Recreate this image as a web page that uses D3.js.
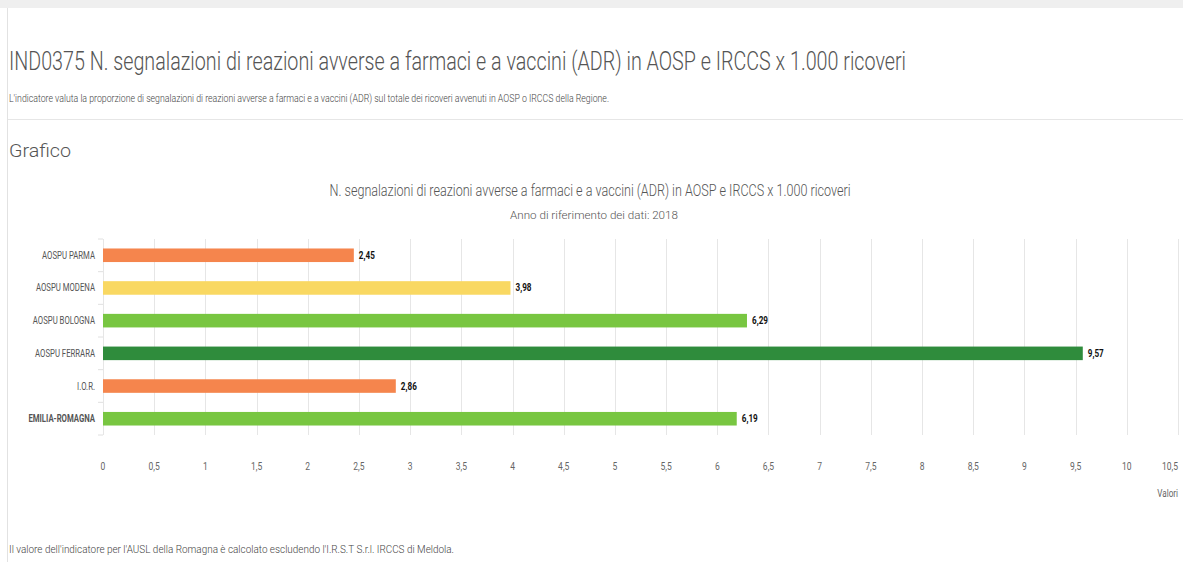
<!DOCTYPE html>
<html>
<head>
<meta charset="utf-8">
<script src="https://cdn.jsdelivr.net/npm/d3@7"></script>
<style>
    body { margin: 0; background: #fff; }
    svg { display: block; }
    .narrow { font-family: "Roboto", "Liberation Sans", sans-serif; }
    .light { font-family: "Roboto", "Liberation Sans", sans-serif; font-weight: 300; }
</style>
</head>
<body>
<svg id="page" width="1183" height="562"></svg>
<script>
const categories = ["AOSPU PARMA", "AOSPU MODENA", "AOSPU BOLOGNA", "AOSPU FERRARA", "I.O.R.", "EMILIA-ROMAGNA"];
const values = [2.45, 3.98, 6.29, 9.57, 2.86, 6.19];
const levels = ["basso", "medio", "buono", "ottimo", "basso", "buono"];
const tickValues = [0, 0.5, 1, 1.5, 2, 2.5, 3, 3.5, 4, 4.5, 5, 5.5, 6, 6.5, 7, 7.5, 8, 8.5, 9, 9.5, 10, 10.5];

const locale = d3.formatLocale({ decimal: ",", thousands: ".", grouping: [3], currency: ["€", ""] });
const fmt = locale.format(",.2f");
const tickFmt = (d) => String(d).replace(".", ",");

const color = d3.scaleOrdinal()
    .domain(["basso", "medio", "buono", "ottimo"])
    .range(["#f5854d", "#f9d862", "#78c641", "#2f8c3c"]);

// condensed text: place with translate, squeeze horizontally
const squeeze = 0.74;
const at = (px, py) => `translate(${px},${py}) scale(${squeeze},1)`;

const svg = d3.select("#page");

// page frame
svg.append("rect").attr("x", 0).attr("y", 0).attr("width", 1183).attr("height", 8).attr("fill", "#efefef");
svg.append("line").attr("x1", 7.5).attr("x2", 7.5).attr("y1", 8).attr("y2", 562).attr("stroke", "#e2e2e2");
svg.append("line").attr("x1", 8).attr("x2", 1183).attr("y1", 119.5).attr("y2", 119.5).attr("stroke", "#e6e6e6");

svg.append("text").attr("class", "light")
    .attr("x", 9).attr("y", 70)
    .attr("font-size", 26).attr("fill", "#555")
    .attr("textLength", 897).attr("lengthAdjust", "spacingAndGlyphs")
    .text("IND0375 N. segnalazioni di reazioni avverse a farmaci e a vaccini (ADR) in AOSP e IRCCS x 1.000 ricoveri");

svg.append("text").attr("class", "light")
    .attr("x", 9).attr("y", 102)
    .attr("font-size", 10).attr("font-weight", 400).attr("fill", "#444")
    .attr("textLength", 600).attr("lengthAdjust", "spacingAndGlyphs")
    .text("L'indicatore valuta la proporzione di segnalazioni di reazioni avverse a farmaci e a vaccini (ADR) sul totale dei ricoveri avvenuti in AOSP o IRCCS della Regione.");

svg.append("text").attr("class", "light")
    .attr("x", 9).attr("y", 157)
    .attr("font-size", 19).attr("fill", "#555")
    .attr("textLength", 62).attr("lengthAdjust", "spacingAndGlyphs")
    .text("Grafico");

svg.append("text").attr("class", "light")
    .attr("x", 590).attr("y", 196).attr("text-anchor", "middle")
    .attr("font-size", 16).attr("font-weight", 400).attr("fill", "#555")
    .attr("textLength", 521).attr("lengthAdjust", "spacingAndGlyphs")
    .text("N. segnalazioni di reazioni avverse a farmaci e a vaccini (ADR) in AOSP e IRCCS x 1.000 ricoveri");

svg.append("text").attr("class", "light")
    .attr("x", 594).attr("y", 219).attr("text-anchor", "middle")
    .attr("font-size", 11.5).attr("font-weight", 400).attr("fill", "#555")
    .attr("textLength", 168).attr("lengthAdjust", "spacingAndGlyphs")
    .text("Anno di riferimento dei dati: 2018");

svg.append("text").attr("class", "light")
    .attr("x", 9).attr("y", 553)
    .attr("font-size", 10.5).attr("font-weight", 400).attr("fill", "#444")
    .attr("textLength", 445).attr("lengthAdjust", "spacingAndGlyphs")
    .text("Il valore dell'indicatore per l'AUSL della Romagna è calcolato escludendo l'I.R.S.T S.r.l. IRCCS di Meldola.");

// chart
const x = d3.scaleLinear().domain([0, 10.5]).range([103, 1178]);
const y = d3.scaleBand().domain(categories).range([239, 435]).paddingInner(0.585).paddingOuter(0.29);

const g = svg.append("g");

g.append("g").selectAll("line")
    .data(tickValues)
    .join("line")
    .attr("x1", (d) => Math.round(x(d)) + 0.5)
    .attr("x2", (d) => Math.round(x(d)) + 0.5)
    .attr("y1", 239).attr("y2", 435)
    .attr("stroke", "#e6e6e6");

// small category ticks on the left axis
const yTicks = d3.range(categories.length + 1).map((i) => 239 + i * (196 / categories.length));
g.append("g").selectAll("line")
    .data(yTicks)
    .join("line")
    .attr("x1", 98).attr("x2", 103)
    .attr("y1", (d) => d).attr("y2", (d) => d)
    .attr("stroke", "#e0e0e0");

g.append("g").selectAll("rect")
    .data(categories)
    .join("rect")
    .attr("x", x(0))
    .attr("y", (d) => y(d))
    .attr("width", (d, i) => x(values[i]) - x(0))
    .attr("height", y.bandwidth())
    .attr("fill", (d, i) => color(levels[i]));

g.append("g").selectAll("text")
    .data(categories)
    .join("text")
    .attr("class", "narrow")
    .attr("transform", (d, i) => at(x(values[i]) + 5, y(d) + y.bandwidth() / 2 + 3.5))
    .attr("font-size", 11).attr("font-weight", 700).attr("fill", "#111")
    .text((d, i) => fmt(values[i]));

g.append("g").selectAll("text")
    .data(categories)
    .join("text")
    .attr("class", "narrow")
    .attr("transform", (d) => at(95, y(d) + y.bandwidth() / 2 + 3.5))
    .attr("text-anchor", "end")
    .attr("font-size", 10.5)
    .attr("font-weight", (d, i) => i === categories.length - 1 ? 700 : 400)
    .attr("fill", "#555")
    .text((d) => d);

g.append("g").selectAll("text")
    .data(tickValues)
    .join("text")
    .attr("class", "narrow")
    .attr("transform", (d) => at(d === 10.5 ? x(d) - 8 : x(d), 470))
    .attr("text-anchor", "middle")
    .attr("font-size", 11.5).attr("fill", "#666")
    .text(tickFmt);

svg.append("text").attr("class", "narrow")
    .attr("transform", at(1178, 497))
    .attr("text-anchor", "end")
    .attr("font-size", 11).attr("fill", "#666")
    .text("Valori");
</script>
</body>
</html>
